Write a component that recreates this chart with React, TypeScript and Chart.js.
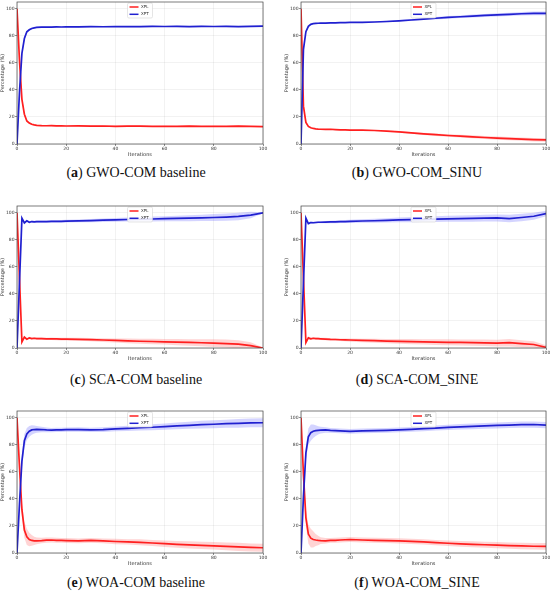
import React, { useEffect, useRef } from 'react';
import Chart from 'chart.js/auto';

const ITERS = [0, 1, 2, 3, 4, 5, 6, 7, 8, 10, 12, 14, 16, 18, 20, 25, 30, 35, 40, 45, 50, 55, 60, 65, 70, 75, 80, 85, 90, 95, 100];
const X_TICKS = [0, 20, 40, 60, 80, 100];
const Y_TICKS = [0, 20, 40, 60, 80, 100];
const SERIES = ['XPL', 'XPT'];

// (a) GWO-COM baseline
const GWO_BASE_XPL = [100, 62, 33, 22, 17, 15.5, 14.6, 14.1, 13.8, 13.6, 13.5, 13.6, 13.4, 13.5, 13.3, 13.4, 13.2, 13.3, 13.1, 13.2, 13.2, 13.0, 13.1, 13.0, 13.2, 13.0, 13.1, 13.0, 13.2, 13.0, 12.9];
const GWO_BASE_XPL_SD = [0, 2, 2, 1.5, 1, 0.8, 0.6, 0.5, 0.5, 0.4, 0.4, 0.4, 0.4, 0.4, 0.4, 0.4, 0.4, 0.4, 0.4, 0.4, 0.4, 0.4, 0.4, 0.4, 0.4, 0.4, 0.4, 0.4, 0.4, 0.4, 0.4];
const GWO_BASE_XPT = [0, 38, 67, 78, 83, 84.5, 85.4, 85.9, 86.2, 86.4, 86.5, 86.4, 86.6, 86.5, 86.7, 86.6, 86.8, 86.7, 86.9, 86.8, 86.8, 87.0, 86.9, 87.0, 86.8, 87.0, 86.9, 87.0, 86.8, 87.0, 87.1];
const GWO_BASE_XPT_SD = [0, 2, 2, 1.5, 1, 0.8, 0.6, 0.5, 0.5, 0.4, 0.4, 0.4, 0.4, 0.4, 0.4, 0.4, 0.4, 0.4, 0.4, 0.4, 0.4, 0.4, 0.4, 0.4, 0.4, 0.4, 0.4, 0.4, 0.4, 0.4, 0.4];

// (b) GWO-COM_SINU
const GWO_SINU_XPL = [100, 28, 16, 13, 12, 11.5, 11.2, 11.0, 10.9, 10.8, 10.9, 10.7, 10.5, 10.4, 10.3, 10.2, 10.0, 9.5, 8.9, 8.2, 7.5, 6.9, 6.3, 5.8, 5.3, 4.8, 4.4, 4.0, 3.6, 3.2, 3.0];
const GWO_SINU_XPL_SD = [0, 1.5, 1, 0.6, 0.4, 0.3, 0.3, 0.3, 0.3, 0.3, 0.3, 0.3, 0.3, 0.3, 0.3, 0.4, 0.4, 0.5, 0.6, 0.7, 0.8, 0.9, 1.0, 1.0, 1.1, 1.1, 1.2, 1.2, 1.2, 1.3, 1.3];
const GWO_SINU_XPT = [0, 70, 83, 87, 88.5, 89, 89.2, 89.3, 89.4, 89.4, 89.5, 89.6, 89.7, 89.8, 89.9, 90.0, 90.2, 90.6, 91.1, 91.7, 92.4, 93.0, 93.6, 94.1, 94.6, 95.1, 95.5, 95.9, 96.3, 96.6, 96.6];
const GWO_SINU_XPT_SD = [0, 1.5, 1, 0.6, 0.4, 0.3, 0.3, 0.3, 0.3, 0.3, 0.3, 0.3, 0.3, 0.3, 0.3, 0.4, 0.4, 0.5, 0.6, 0.7, 0.8, 0.9, 1.0, 1.0, 1.1, 1.1, 1.2, 1.2, 1.3, 1.4, 1.4];

// (c) SCA-COM baseline
const SCA_BASE_XPL = [100, 52, 4.5, 8, 6.5, 7.5, 7, 7.2, 7, 6.9, 6.8, 6.8, 6.7, 6.6, 6.6, 6.4, 6.2, 5.9, 5.6, 5.3, 5.0, 4.8, 4.6, 4.3, 4.1, 3.9, 3.6, 3.3, 2.8, 1.8, 0];
const SCA_BASE_XPL_SD = [0, 1, 1, 1, 0.8, 0.8, 0.8, 0.8, 0.8, 0.8, 0.8, 0.9, 0.9, 1.0, 1.0, 1.1, 1.2, 1.4, 1.5, 1.7, 1.8, 2.0, 2.1, 2.3, 2.4, 2.6, 2.8, 3.0, 3.0, 2.5, 0.3];
const SCA_BASE_XPT = [0, 48, 96, 92.5, 94, 93, 93.5, 93.2, 93.4, 93.5, 93.5, 93.6, 93.6, 93.7, 93.8, 94.0, 94.2, 94.5, 94.7, 95.0, 95.2, 95.4, 95.6, 95.8, 96.0, 96.2, 96.5, 96.8, 97.3, 98.3, 100];
const SCA_BASE_XPT_SD = [0, 1, 1, 1, 0.8, 0.8, 0.8, 0.8, 0.8, 0.8, 0.8, 0.9, 0.9, 1.0, 1.0, 1.1, 1.2, 1.3, 1.4, 1.5, 1.6, 1.8, 1.9, 2.0, 2.2, 2.3, 2.5, 2.7, 2.8, 2.4, 0.3];

// (d) SCA-COM_SINE
const SCA_SINE_XPL = [100, 52, 4, 7.5, 6.8, 7.2, 7.0, 6.9, 6.8, 6.6, 6.4, 6.3, 6.1, 6.0, 5.9, 5.6, 5.4, 5.1, 4.9, 4.7, 4.5, 4.4, 4.2, 4.1, 4.0, 3.8, 3.6, 3.9, 3.2, 2.6, 0.5];
const SCA_SINE_XPL_SD = [0, 1, 1, 1, 0.8, 0.8, 0.8, 0.8, 0.8, 0.9, 0.9, 1.0, 1.0, 1.1, 1.2, 1.3, 1.5, 1.6, 1.8, 1.9, 2.0, 2.1, 2.2, 2.2, 2.3, 2.4, 2.5, 2.7, 2.6, 2.3, 1.5];
const SCA_SINE_XPT = [0, 48, 96, 92, 92.8, 92.6, 92.8, 93.0, 93.0, 93.1, 93.2, 93.3, 93.4, 93.5, 93.6, 93.9, 94.1, 94.4, 94.7, 94.9, 95.1, 95.3, 95.5, 95.6, 95.8, 96.0, 96.2, 95.7, 96.5, 97.4, 99.4];
const SCA_SINE_XPT_SD = [0, 1, 1, 1, 0.8, 0.8, 0.8, 0.8, 0.8, 0.9, 0.9, 1.0, 1.0, 1.1, 1.2, 1.3, 1.5, 1.6, 1.8, 1.9, 2.0, 2.1, 2.2, 2.3, 2.4, 2.5, 2.6, 2.8, 2.8, 2.6, 2.0];

// (e) WOA-COM baseline
const WOA_BASE_XPL = [100, 64, 32, 17, 12, 10, 9.3, 9.0, 9.0, 9.2, 9.5, 9.6, 9.4, 9.3, 9.2, 9.0, 9.3, 9.0, 8.5, 8.2, 7.9, 7.4, 6.9, 6.4, 6.0, 5.6, 5.3, 4.9, 4.5, 4.1, 3.9];
const WOA_BASE_XPL_SD = [0, 3, 5, 6, 6, 5, 4, 3, 2.5, 2, 2, 1.8, 1.8, 1.8, 1.8, 1.8, 1.8, 1.8, 2, 2, 2.2, 2.3, 2.4, 2.5, 2.6, 2.7, 2.8, 2.9, 3, 3, 3];
const WOA_BASE_XPT = [0, 36, 68, 83, 88, 90, 91, 91.3, 91.4, 91.3, 91.0, 90.8, 91.0, 91.1, 91.2, 91.3, 91.0, 91.2, 91.8, 92.2, 92.6, 93.0, 93.5, 94.0, 94.4, 94.9, 95.2, 95.6, 95.9, 96.2, 96.3];
const WOA_BASE_XPT_SD = [0, 3, 5, 5, 4.5, 4, 3.5, 3, 2.5, 2, 1.8, 1.6, 1.6, 1.6, 1.6, 1.6, 1.6, 1.7, 1.8, 1.9, 2.0, 2.2, 2.3, 2.5, 2.6, 2.8, 2.9, 3.0, 3.2, 3.3, 3.4];

// (f) WOA-COM_SINE
const WOA_SINE_XPL = [100, 58, 26, 14, 11, 10, 9.6, 9.3, 9.1, 9.0, 9.3, 9.4, 9.6, 9.8, 10.0, 9.6, 9.4, 9.2, 9.0, 8.6, 8.2, 7.7, 7.2, 6.8, 6.4, 6.1, 5.8, 5.5, 5.2, 5.0, 4.9];
const WOA_SINE_XPL_SD = [0, 3, 6, 7, 7, 6, 4.5, 3.5, 2.5, 2, 1.8, 1.8, 1.8, 1.8, 1.8, 1.8, 1.8, 1.8, 1.9, 1.9, 2, 2, 2.1, 2.1, 2.2, 2.2, 2.3, 2.3, 2.4, 2.4, 2.5];
const WOA_SINE_XPT = [0, 42, 74, 86, 89, 90, 90.5, 90.7, 90.9, 91.0, 90.7, 90.5, 90.3, 90.1, 89.9, 90.3, 90.5, 90.7, 91.0, 91.4, 91.9, 92.4, 92.9, 93.3, 93.6, 94.0, 94.3, 94.6, 94.9, 95.0, 94.6];
const WOA_SINE_XPT_SD = [0, 3, 5, 6, 6, 5, 4, 3, 2.5, 2, 1.8, 1.8, 1.7, 1.7, 1.7, 1.7, 1.7, 1.7, 1.8, 1.8, 1.9, 1.9, 2, 2, 2.1, 2.1, 2.2, 2.2, 2.3, 2.3, 2.3];

interface PanelDef {
  tag: string;
  title: string;
  xpl: number[];
  xplSd: number[];
  xpt: number[];
  xptSd: number[];
  col: number;
  row: number;
}

const PANELS: PanelDef[] = [
  { tag: 'a', title: 'GWO-COM baseline', xpl: GWO_BASE_XPL, xplSd: GWO_BASE_XPL_SD, xpt: GWO_BASE_XPT, xptSd: GWO_BASE_XPT_SD, col: 0, row: 0 },
  { tag: 'b', title: 'GWO-COM_SINU', xpl: GWO_SINU_XPL, xplSd: GWO_SINU_XPL_SD, xpt: GWO_SINU_XPT, xptSd: GWO_SINU_XPT_SD, col: 1, row: 0 },
  { tag: 'c', title: 'SCA-COM baseline', xpl: SCA_BASE_XPL, xplSd: SCA_BASE_XPL_SD, xpt: SCA_BASE_XPT, xptSd: SCA_BASE_XPT_SD, col: 0, row: 1 },
  { tag: 'd', title: 'SCA-COM_SINE', xpl: SCA_SINE_XPL, xplSd: SCA_SINE_XPL_SD, xpt: SCA_SINE_XPT, xptSd: SCA_SINE_XPT_SD, col: 1, row: 1 },
  { tag: 'e', title: 'WOA-COM baseline', xpl: WOA_BASE_XPL, xplSd: WOA_BASE_XPL_SD, xpt: WOA_BASE_XPT, xptSd: WOA_BASE_XPT_SD, col: 0, row: 2 },
  { tag: 'f', title: 'WOA-COM_SINE', xpl: WOA_SINE_XPL, xplSd: WOA_SINE_XPL_SD, xpt: WOA_SINE_XPT, xptSd: WOA_SINE_XPT_SD, col: 1, row: 2 },
];

// layout of the figure
const COL_LEFT = [0, 284];
const COL_WIDTH = [268, 266];
const COL_PAD_RIGHT = [5, 4];
const COL_CAPTION_CENTER = [136, 417];
const ROW_TOP = [0, 204, 409];
const ROW_CAPTION_Y = [173, 380, 583];
const CANVAS_H = 162;

const RED = '#ff1f1f';
const BLUE = '#2020d0';
const RED_BAND = 'rgba(255, 60, 60, 0.22)';
const BLUE_BAND = 'rgba(60, 60, 255, 0.22)';
const FONT = "'DejaVu Sans', sans-serif";

const pts = (vals: number[]) => ITERS.map((x, i) => ({ x, y: vals[i] }));
const shift = (vals: number[], sd: number[], sign: number) => vals.map((v, i) => v + sign * sd[i]);

const framePlugin = {
  id: 'frame',
  afterDraw(chart: any) {
    const { ctx, chartArea: a } = chart;
    ctx.save();
    ctx.strokeStyle = '#444';
    ctx.lineWidth = 0.7;
    ctx.strokeRect(a.left, a.top, a.right - a.left, a.bottom - a.top);
    ctx.restore();
  },
};

const legendPlugin = {
  id: 'innerLegend',
  afterDatasetsDraw(chart: any) {
    const { ctx, chartArea: a } = chart;
    const w = 25;
    const h = 15;
    const x = (a.left + a.right) / 2 - w / 2;
    const y = a.top + 1;
    ctx.save();
    ctx.fillStyle = 'rgba(255,255,255,0.85)';
    ctx.strokeStyle = '#d4d4d4';
    ctx.lineWidth = 0.6;
    ctx.beginPath();
    ctx.roundRect(x, y, w, h, 1.5);
    ctx.fill();
    ctx.stroke();
    const colors = [RED, BLUE];
    ctx.font = `4px ${FONT}`;
    ctx.textBaseline = 'middle';
    SERIES.forEach((name, i) => {
      const ly = y + 4 + i * 7.3;
      ctx.strokeStyle = colors[i];
      ctx.lineWidth = 1.5;
      ctx.beginPath();
      ctx.moveTo(x + 2, ly);
      ctx.lineTo(x + 11, ly);
      ctx.stroke();
      ctx.fillStyle = '#222';
      ctx.fillText(name, x + 13.5, ly);
    });
    ctx.restore();
  },
};

const Panel: React.FC<{ p: PanelDef }> = ({ p }) => {
  const chartRef = useRef<HTMLCanvasElement | null>(null);
  const width = COL_WIDTH[p.col];

  useEffect(() => {
    if (!chartRef.current) return;
    const ctx = chartRef.current.getContext('2d');
    if (!ctx) return;

    const band = (vals: number[], fill: any, color: string) => ({
      data: pts(vals),
      borderColor: 'rgba(0,0,0,0)',
      borderWidth: 0,
      backgroundColor: color,
      pointRadius: 0,
      fill,
      tension: 0,
    });

    const chart = new Chart(ctx, {
      type: 'line',
      data: {
        datasets: [
          { label: 'XPT', data: pts(p.xpt), borderColor: BLUE, borderWidth: 1.7, pointRadius: 0, fill: false, tension: 0 },
          { label: 'XPL', data: pts(p.xpl), borderColor: RED, borderWidth: 1.7, pointRadius: 0, fill: false, tension: 0 },
          band(shift(p.xpl, p.xplSd, -1), false, RED_BAND),
          band(shift(p.xpl, p.xplSd, 1), '-1', RED_BAND),
          band(shift(p.xpt, p.xptSd, -1), false, BLUE_BAND),
          band(shift(p.xpt, p.xptSd, 1), '-1', BLUE_BAND),
        ] as any,
      },
      options: {
        animation: false,
        responsive: false,
        maintainAspectRatio: false,
        layout: { padding: { top: 2, right: COL_PAD_RIGHT[p.col], left: 0, bottom: 0 } },
        plugins: { legend: { display: false }, tooltip: { enabled: false } },
        scales: {
          x: {
            type: 'linear',
            min: 0,
            max: 100,
            afterBuildTicks: (s: any) => {
              s.ticks = X_TICKS.map((v) => ({ value: v }));
            },
            afterFit: (s: any) => {
              s.height = 18;
              s.paddingLeft = 0;
              s.paddingRight = 0;
            },
            ticks: { font: { size: 4.5, family: FONT }, color: '#333', padding: 0.5, maxRotation: 0, autoSkip: false },
            grid: { color: 'rgba(0,0,0,0.1)', lineWidth: 0.5, tickColor: '#444', tickLength: 2, tickWidth: 0.6 },
            border: { display: false },
            title: { display: true, text: 'Iterations', font: { size: 5, family: FONT }, color: '#333', padding: { top: 0, bottom: 4 } },
          },
          y: {
            type: 'linear',
            min: 0,
            max: 105,
            afterBuildTicks: (s: any) => {
              s.ticks = Y_TICKS.map((v) => ({ value: v }));
            },
            afterFit: (s: any) => {
              s.width = 17;
              s.paddingTop = 0;
              s.paddingBottom = 0;
            },
            ticks: { font: { size: 4.5, family: FONT }, color: '#333', padding: 0.5 },
            grid: { color: 'rgba(0,0,0,0.1)', lineWidth: 0.5, tickColor: '#444', tickLength: 2, tickWidth: 0.6 },
            border: { display: false },
            title: { display: true, text: 'Percentage (%)', font: { size: 5, family: FONT }, color: '#333', padding: { top: 0, bottom: 0 } },
          },
        },
      } as any,
      plugins: [framePlugin, legendPlugin],
    });

    return () => {
      chart.destroy();
    };
  }, [p]);

  return (
    <>
      <canvas
        ref={chartRef}
        width={width}
        height={CANVAS_H}
        style={{ position: 'absolute', left: COL_LEFT[p.col], top: ROW_TOP[p.row], width, height: CANVAS_H }}
      />
      <div
        style={{
          position: 'absolute',
          left: COL_CAPTION_CENTER[p.col] - 130,
          width: 260,
          top: ROW_CAPTION_Y[p.row] - 8,
          lineHeight: '16px',
          textAlign: 'center',
          fontFamily: "'Liberation Serif', serif",
          fontSize: 14,
          color: '#111',
          whiteSpace: 'nowrap',
        }}
      >
        (<b>{p.tag}</b>) {p.title}
      </div>
    </>
  );
};

export default function App() {
  return (
    <div style={{ position: 'fixed', left: 0, top: 0, width: 550, height: 592, background: '#fff', overflow: 'hidden' }}>
      {PANELS.map((p) => (
        <Panel key={p.tag} p={p} />
      ))}
    </div>
  );
}
